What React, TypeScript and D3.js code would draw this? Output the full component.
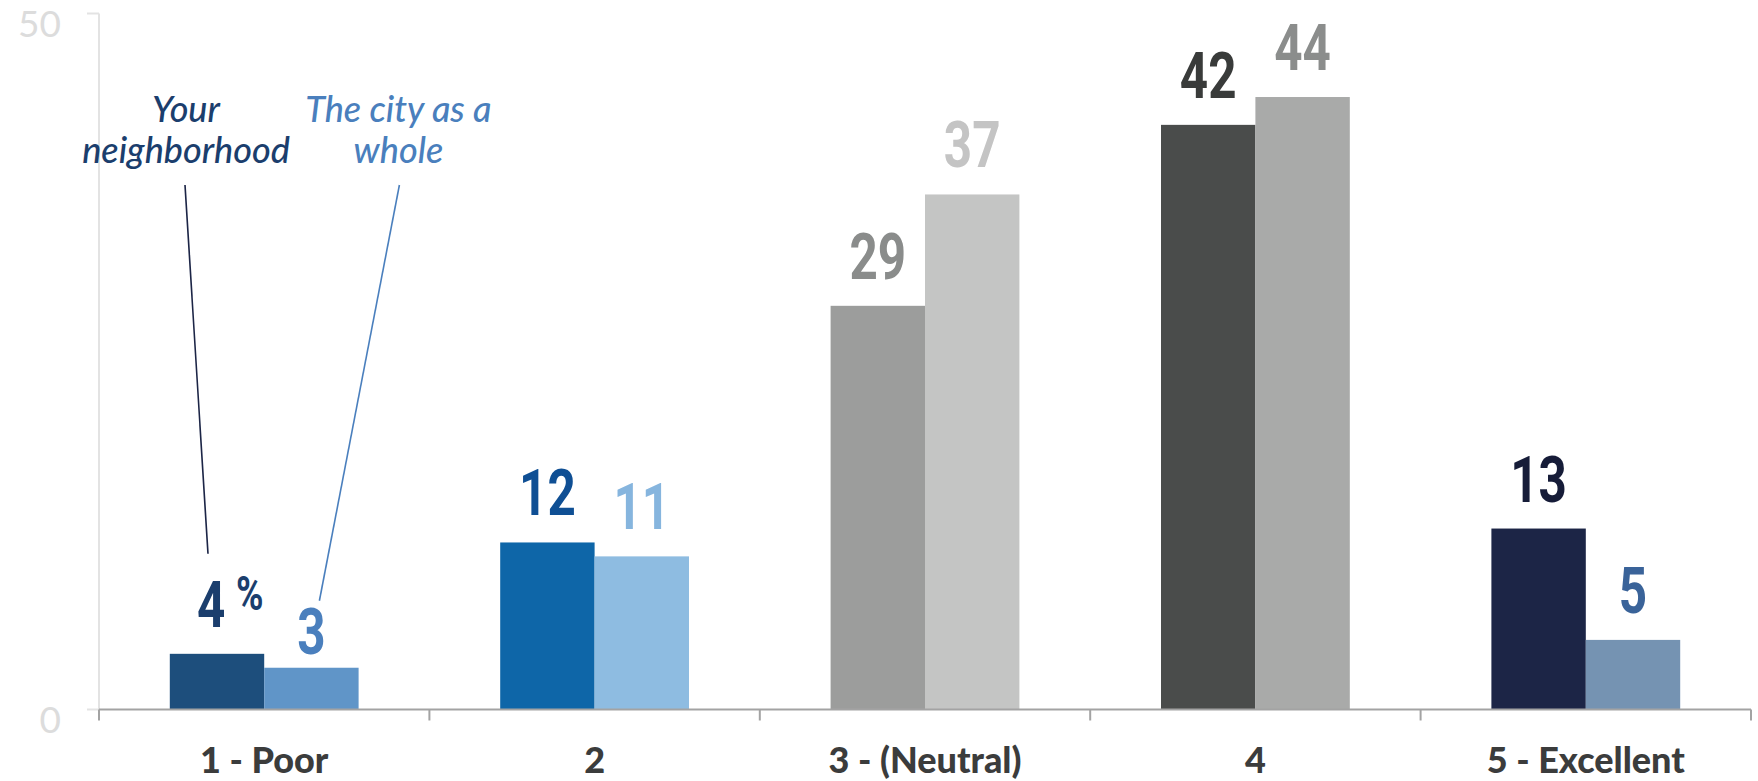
import React from "react";
import * as d3 from "d3";

const categories = ["1 - Poor", "2", "3 - (Neutral)", "4", "5 - Excellent"];
const series = ["Your neighborhood", "The city as a whole"];
const neighborhood = [4, 12, 29, 42, 13];
const city = [3, 11, 37, 44, 5];
const neighborhoodColors = ["#1d4e7c", "#0e66a8", "#9c9d9c", "#4a4c4b", "#1c2546"];
const cityColors = ["#6095c8", "#8ebce1", "#c4c5c4", "#a9aaa9", "#7593b2"];
const neighborhoodLabelColors = ["#1b3e6d", "#0f4f94", "#8a8c8b", "#393b3a", "#161c38"];
const cityLabelColors = ["#4a7fbd", "#86b5de", "#c4c4c4", "#8b8d8c", "#3a6399"];
const yTicks = [0, 50];
const annotationLines = [["Your", "neighborhood"], ["The city as a", "whole"]];
const annotationColors = ["#1b3e6d", "#4a7fbd"];
const leaderColors = ["#1c2546", "#4a7fbd"];

const W = 1758;
const H = 781;
const M = { left: 99, right: 7, top: 13.5, bottom: 71.5 };

export default function App() {
  const x = d3.scaleBand<string>().domain(categories).range([M.left, W - M.right]).paddingInner(0).paddingOuter(0);
  const inner = d3.scaleBand<string>().domain(series).range([0, x.bandwidth()]).paddingInner(0).paddingOuter(0.75);
  const y = d3.scaleLinear().domain([0, 50]).range([H - M.bottom, M.top]);
  const y0 = y(0);
  const labelFont = "Roboto, 'Liberation Sans', sans-serif";
  const sx = 0.76;
  const labelGap = 27;
  const digitH = 46;

  const bars: any[] = [];
  const labels: any[] = [];
  categories.forEach((c, i) => {
    const vals = [neighborhood[i], city[i]];
    const fills = [neighborhoodColors[i], cityColors[i]];
    const lc = [neighborhoodLabelColors[i], cityLabelColors[i]];
    series.forEach((s, j) => {
      const bx = (x(c) as number) + (inner(s) as number);
      const v = vals[j];
      bars.push(
        <rect key={`b${i}${j}`} x={bx} y={y(v)} width={inner.bandwidth()} height={y0 - y(v)} fill={fills[j]} />
      );
      const cx = bx + inner.bandwidth() / 2;
      const gap = i === 0 && j === 1 ? 14 : labelGap;
      const ly = y(v) - gap;
      if (i === 0 && j === 0) {
        labels.push(
          <g key={`l${i}${j}`} transform={`translate(${cx},${ly}) scale(${sx},1)`}>
            <text x={-20 / sx} y={0} textAnchor="start" fontFamily={labelFont} fontWeight={700} fontSize={65} fill={lc[j]}>
              {v}
              <tspan dx={14} dy={-17} fontSize={49}>%</tspan>
            </text>
          </g>
        );
      } else {
        labels.push(
          <g key={`l${i}${j}`} transform={`translate(${cx},${ly}) scale(${sx},1)`}>
            <text x={0} y={0} textAnchor="middle" fontFamily={labelFont} fontWeight={700} fontSize={65} fill={lc[j]}>
              {v}
            </text>
          </g>
        );
      }
    });
  });

  // annotation leaders for the first category
  const c0 = categories[0];
  const nCx = (x(c0) as number) + (inner(series[0]) as number) + inner.bandwidth() / 2;
  const cCx = (x(c0) as number) + (inner(series[1]) as number) + inner.bandwidth() / 2;
  const nLabelTop = y(neighborhood[0]) - labelGap - digitH;
  const cLabelTop = y(city[0]) - 14 - digitH;
  const annX = [nCx - 31, cCx + 87];
  const leaders = [
    { x1: nCx - 32, y1: 185, x2: nCx - 9, y2: nLabelTop - 27 },
    { x1: cCx + 88, y1: 185, x2: cCx + 8, y2: cLabelTop - 7 },
  ];

  const ticks = categories.map((c) => x(c) as number).concat([W - M.right]);

  return (
    <svg width={W} height={H} style={{ position: "absolute", left: 0, top: 0, display: "block", background: "#fff" }}>
      {/* y axis */}
      <line x1={M.left} x2={M.left} y1={y(50)} y2={y0} stroke="#e3e3e3" strokeWidth={2} />
      {yTicks.map((t) => (
        <g key={`yt${t}`}>
          <line x1={M.left - 12} x2={M.left} y1={y(t)} y2={y(t)} stroke="#e3e3e3" strokeWidth={2} />
          <text x={61} y={y(t) + 23} textAnchor="end" fontFamily="Lato, sans-serif" fontWeight={400} fontSize={37} fill="#dcdcdc">
            {t}
          </text>
        </g>
      ))}
      {bars}
      {/* x axis */}
      <line x1={M.left} x2={W - M.right} y1={y0} y2={y0} stroke="#a3a3a3" strokeWidth={2} />
      {ticks.map((t, i) => (
        <line key={`xt${i}`} x1={t} x2={t} y1={y0} y2={y0 + 11} stroke="#a3a3a3" strokeWidth={2} />
      ))}
      {categories.map((c) => (
        <text key={`xl${c}`} x={(x(c) as number) + x.bandwidth() / 2} y={773} textAnchor="middle" fontFamily="Lato, sans-serif" fontWeight={900} fontSize={36} fill="#3b3c3c">
          {c}
        </text>
      ))}
      {labels}
      {leaders.map((l, i) => (
        <line key={`ld${i}`} x1={l.x1} y1={l.y1} x2={l.x2} y2={l.y2} stroke={leaderColors[i]} strokeWidth={1.6} />
      ))}
      {annotationLines.map((lines, i) => (
        <text key={`an${i}`} textAnchor="middle" fontFamily="Lato, sans-serif" fontStyle="italic" fontWeight={500} fontSize={36} fill={annotationColors[i]}>
          {lines.map((ln, k) => (
            <tspan key={k} x={annX[i]} y={122 + k * 41}>
              {ln}
            </tspan>
          ))}
        </text>
      ))}
    </svg>
  );
}
